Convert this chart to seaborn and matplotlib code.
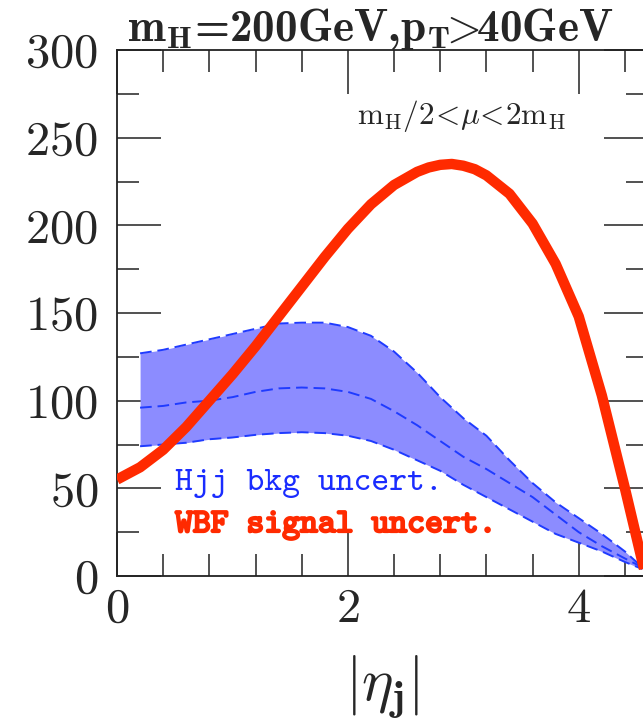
import numpy as np
import pandas as pd
import seaborn as sns
import matplotlib
matplotlib.use("Agg")
import matplotlib.pyplot as plt
from matplotlib.ticker import MultipleLocator
import matplotlib.patheffects as pe

# ---------------- data ----------------
sig_eta = [0.0, 0.2, 0.4, 0.6, 0.8, 1.0, 1.2, 1.4, 1.6, 1.8, 2.0, 2.2, 2.4,
           2.6, 2.7, 2.8, 2.9, 3.0, 3.1, 3.2, 3.4, 3.6, 3.8, 4.0, 4.2, 4.4, 4.58]
sig_val = [55, 62, 72, 85, 100, 115, 131, 148, 165, 182, 198, 212, 223,
           230.5, 233, 234.5, 235, 234, 232, 228.5, 218, 201, 178, 148, 103, 50, 0]

bkg_eta = [0.2, 0.4, 0.6, 0.8, 1.0, 1.2, 1.4, 1.6, 1.8, 2.0, 2.2, 2.4, 2.6,
           2.8, 3.0, 3.2, 3.4, 3.6, 3.8, 4.0, 4.2, 4.4, 4.55]
bkg_hi = [127, 129, 132, 135, 138, 141, 144, 144.5, 144.5, 142, 137, 128, 116,
          102, 90, 80, 66, 53, 42, 33, 24, 14, 5]
bkg_mid = [96, 97, 99, 100, 102, 105, 107, 107.5, 107, 105, 101, 94, 86,
           77, 68, 61, 53, 45, 35, 25, 17, 10, 5]
bkg_lo = [74, 75, 76, 78, 79, 80.5, 81.5, 82, 81.5, 80, 77, 72, 66,
          60, 52, 45, 38, 31, 24, 19, 14, 8, 4]

title_txt = r"m$_\mathbf{H}$=200GeV,p$_\mathbf{T}$$\!\!>\!\!$40GeV"
scale_txt = r"$\mathrm{m_H/2}\!<\!\mu\!<\!\mathrm{2m_H}$"
bkg_label = "Hjj bkg uncert."
sig_label = "WBF signal uncert."
x_label = r"$|\eta_\mathbf{j}|$"

# ---------------- style ----------------
sns.set_style("ticks")
plt.rcParams["font.family"] = ["cmr10", "DejaVu Serif"]
plt.rcParams["mathtext.fontset"] = "cm"
plt.rcParams["axes.formatter.use_mathtext"] = True

RED = "#ff2a00"
BLUE = "#1f3bff"
FILL = "#8c8cff"

W, H = 643, 724
fig = plt.figure(figsize=(W / 100, H / 100), dpi=100)
left, right, top, bottom = 117, 648, 50, 576
ax = fig.add_axes([left / W, (H - bottom) / H, (right - left) / W, (bottom - top) / H])

sig = pd.DataFrame({"eta": sig_eta, "val": sig_val})
bkg = pd.DataFrame({"eta": bkg_eta, "hi": bkg_hi, "mid": bkg_mid, "lo": bkg_lo})

ax.fill_between(bkg["eta"], bkg["lo"], bkg["hi"], color=FILL, lw=0, zorder=1)
for col in ["hi", "mid", "lo"]:
    sns.lineplot(data=bkg, x="eta", y=col, ax=ax, color=BLUE, lw=1.4,
                 estimator=None, sort=False, zorder=2)
    ax.lines[-1].set_dashes((6, 3))
sns.lineplot(data=sig, x="eta", y="val", ax=ax, color=RED, lw=7.5,
             estimator=None, sort=False, zorder=3)
ax.lines[-1].set_solid_capstyle("butt")
ax.lines[-1].set_solid_joinstyle("round")

ax.set_xlim(0, 4.6)
ax.set_ylim(0, 300)
ax.xaxis.set_major_locator(MultipleLocator(2))
ax.xaxis.set_minor_locator(MultipleLocator(0.4))
ax.yaxis.set_major_locator(MultipleLocator(50))
ax.yaxis.set_minor_locator(MultipleLocator(25))
ax.tick_params(which="both", direction="in", top=True, right=True,
               width=1.1, color="#222222")
ax.tick_params(which="major", length=31.5, labelsize=35, pad=13.5)
ax.tick_params(which="minor", length=15.8)
ax.tick_params(axis="x", which="major", pad=8.5)
for s in ax.spines.values():
    s.set_linewidth(1.3)
    s.set_color("#222222")
ax.set_ylabel("")
ax.set_xlabel(x_label, fontsize=43, labelpad=15)

fig.text(127 / W, (H - 41) / H, title_txt, fontsize=32.5, fontweight="bold",
         family=["cmb10", "DejaVu Serif"], va="baseline", ha="left")
ax.text(357 / W, (H - 124) / H, scale_txt, transform=fig.transFigure,
        fontsize=22.5, va="baseline", ha="left")
ax.text(175 / W, (H - 490) / H, bkg_label, transform=fig.transFigure,
        fontsize=24.5, family=["cmtt10", "DejaVu Sans Mono"], color="#1a2cff",
        va="baseline", ha="left")
ax.text(175 / W, (H - 532) / H, sig_label, transform=fig.transFigure,
        fontsize=24.5, family=["cmtt10", "DejaVu Sans Mono"], color=RED,
        va="baseline", ha="left",
        path_effects=[pe.withStroke(linewidth=1.6, foreground=RED)])

fig.savefig("out.png", dpi=100)
